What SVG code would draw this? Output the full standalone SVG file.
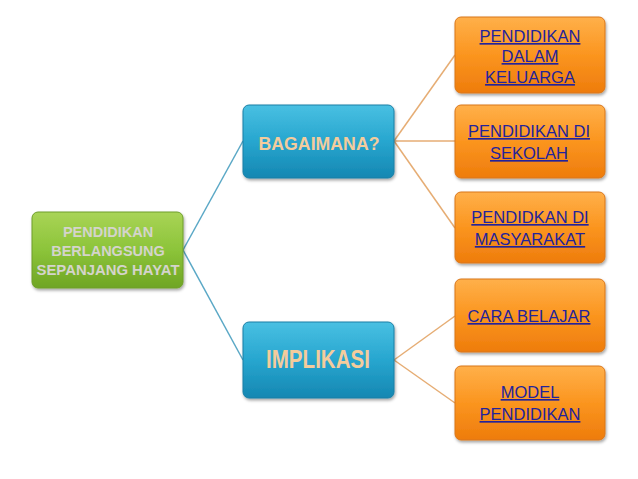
<svg xmlns="http://www.w3.org/2000/svg" width="638" height="479" viewBox="0 0 638 479">
<defs>
<linearGradient id="gGreen" x1="0" y1="0" x2="0" y2="1"><stop offset="0" stop-color="#a9d456"/><stop offset="0.5" stop-color="#8cc43a"/><stop offset="1" stop-color="#6fa524"/></linearGradient>
<linearGradient id="gBlue" x1="0" y1="0" x2="0" y2="1"><stop offset="0" stop-color="#49c0e2"/><stop offset="0.5" stop-color="#27a6cf"/><stop offset="1" stop-color="#1587b2"/></linearGradient>
<linearGradient id="gOrange" x1="0" y1="0" x2="0" y2="1"><stop offset="0" stop-color="#ffb04a"/><stop offset="0.5" stop-color="#fb951f"/><stop offset="1" stop-color="#ee7c0c"/></linearGradient>
<filter id="sh" x="-10%" y="-10%" width="125%" height="130%"><feDropShadow dx="1" dy="2" stdDeviation="1.5" flood-color="#000" flood-opacity="0.35"/></filter>
<style>
.green{fill:url(#gGreen);stroke:#6e9e2a;stroke-width:1}
.blue{fill:url(#gBlue);stroke:#1a7fa5;stroke-width:1}
.orange{fill:url(#gOrange);stroke:#d9761a;stroke-width:1}
.lnB{stroke:#5aa8c6;stroke-width:1.5;fill:none}
.lnO{stroke:#e6ad74;stroke-width:1.5;fill:none}
.tRoot{font-family:"Liberation Sans",Arial,sans-serif;font-weight:bold;font-size:14.5px;fill:#d4d4cc;text-anchor:middle}
.tBlue{font-family:"Liberation Sans",Arial,sans-serif;font-weight:bold;fill:#f4cc9c;text-anchor:middle}
.tOr{font-family:"Liberation Sans",Arial,sans-serif;font-size:16.5px;fill:#23239c;text-anchor:middle;text-decoration:underline}
</style>
</defs>
<rect width="638" height="479" fill="#ffffff"/>
<g id="connectors">
<line class="lnB" x1="183" y1="250" x2="243" y2="141"/>
<line class="lnB" x1="183" y1="250" x2="243" y2="360"/>
<line class="lnO" x1="394" y1="141" x2="455" y2="55"/>
<line class="lnO" x1="394" y1="141" x2="455" y2="141"/>
<line class="lnO" x1="394" y1="141" x2="455" y2="228"/>
<line class="lnO" x1="394" y1="360" x2="455" y2="316"/>
<line class="lnO" x1="394" y1="360" x2="455" y2="403"/>
</g>
<g id="root">
<rect class="green" x="32" y="212" width="151" height="76" rx="6" filter="url(#sh)"/>
<text class="tRoot" x="108" y="237">PENDIDIKAN</text>
<text class="tRoot" x="108" y="256">BERLANGSUNG</text>
<text class="tRoot" x="108" y="275" textLength="143" lengthAdjust="spacingAndGlyphs">SEPANJANG HAYAT</text>
</g>
<g id="bagaimana">
<rect class="blue" x="243" y="105" width="151" height="73" rx="6" filter="url(#sh)"/>
<text class="tBlue" x="319" y="150" font-size="19" textLength="121" lengthAdjust="spacingAndGlyphs">BAGAIMANA?</text>
</g>
<g id="implikasi">
<rect class="blue" x="243" y="322" width="151" height="76" rx="6" filter="url(#sh)"/>
<text class="tBlue" x="318" y="368" font-size="25" textLength="104" lengthAdjust="spacingAndGlyphs">IMPLIKASI</text>
</g>
<g id="keluarga">
<rect class="orange" x="455" y="17" width="150" height="76" rx="6" filter="url(#sh)"/>
<text class="tOr" x="530" y="42">PENDIDIKAN</text>
<text class="tOr" x="530" y="62">DALAM</text>
<text class="tOr" x="530" y="83">KELUARGA</text>
</g>
<g id="sekolah">
<rect class="orange" x="455" y="105" width="150" height="73" rx="6" filter="url(#sh)"/>
<text class="tOr" x="529" y="137">PENDIDIKAN DI</text>
<text class="tOr" x="529" y="159">SEKOLAH</text>
</g>
<g id="masyarakat">
<rect class="orange" x="455" y="192" width="150" height="71" rx="6" filter="url(#sh)"/>
<text class="tOr" x="530" y="223">PENDIDKAN DI</text>
<text class="tOr" x="530" y="245">MASYARAKAT</text>
</g>
<g id="cara">
<rect class="orange" x="455" y="279" width="150" height="73" rx="6" filter="url(#sh)"/>
<text class="tOr" x="529" y="322">CARA BELAJAR</text>
</g>
<g id="model">
<rect class="orange" x="455" y="366" width="150" height="74" rx="6" filter="url(#sh)"/>
<text class="tOr" x="530" y="398">MODEL</text>
<text class="tOr" x="530" y="420">PENDIDIKAN</text>
</g>
</svg>
